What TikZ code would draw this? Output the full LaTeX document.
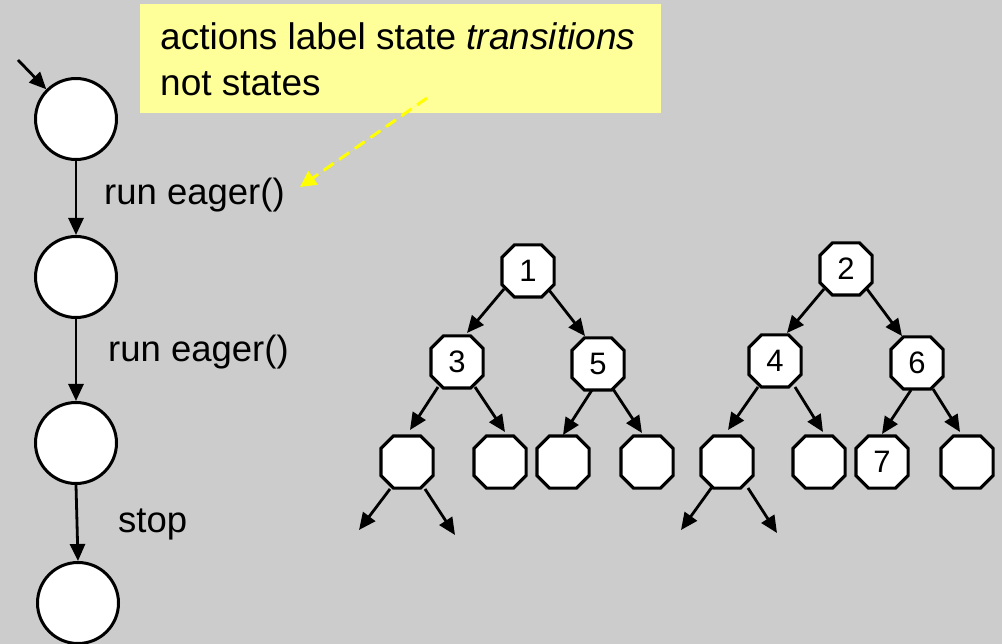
\documentclass[tikz,border=0pt]{standalone}
\usepackage{fontspec}
\setmainfont{Liberation Sans}
\usetikzlibrary{arrows.meta,calc}
\definecolor{bggray}{RGB}{204,204,204}
\definecolor{notefill}{RGB}{255,255,153}
\definecolor{notearrow}{RGB}{255,255,0}

% a rectangle with its four corners cut off at 45 degrees
\def\octcut{12.5pt}
\makeatletter
\pgfdeclareshape{octobox}{%
  \inheritsavedanchors[from=rectangle]%
  \inheritanchorborder[from=rectangle]%
  \inheritanchor[from=rectangle]{center}%
  \inheritanchor[from=rectangle]{north}%
  \inheritanchor[from=rectangle]{south}%
  \inheritanchor[from=rectangle]{east}%
  \inheritanchor[from=rectangle]{west}%
  \inheritanchor[from=rectangle]{north east}%
  \inheritanchor[from=rectangle]{north west}%
  \inheritanchor[from=rectangle]{south east}%
  \inheritanchor[from=rectangle]{south west}%
  \inheritanchor[from=rectangle]{text}%
  \inheritanchor[from=rectangle]{mid}%
  \inheritanchor[from=rectangle]{base}%
  \backgroundpath{%
    \southwest \pgf@xa=\pgf@x \pgf@ya=\pgf@y
    \northeast \pgf@xb=\pgf@x \pgf@yb=\pgf@y
    \pgf@xc=\pgf@xa \advance\pgf@xc by \octcut
    \pgf@yc=\pgf@ya \advance\pgf@yc by \octcut
    \edef\oct@l{\the\pgf@xa}\edef\oct@r{\the\pgf@xb}%
    \edef\oct@b{\the\pgf@ya}\edef\oct@t{\the\pgf@yb}%
    \edef\oct@li{\the\pgf@xc}\edef\oct@bi{\the\pgf@yc}%
    \pgf@xc=\pgf@xb \advance\pgf@xc by -\octcut
    \pgf@yc=\pgf@yb \advance\pgf@yc by -\octcut
    \edef\oct@ri{\the\pgf@xc}\edef\oct@ti{\the\pgf@yc}%
    \pgfpathmoveto{\pgfqpoint{\oct@li}{\oct@b}}%
    \pgfpathlineto{\pgfqpoint{\oct@ri}{\oct@b}}%
    \pgfpathlineto{\pgfqpoint{\oct@r}{\oct@bi}}%
    \pgfpathlineto{\pgfqpoint{\oct@r}{\oct@ti}}%
    \pgfpathlineto{\pgfqpoint{\oct@ri}{\oct@t}}%
    \pgfpathlineto{\pgfqpoint{\oct@li}{\oct@t}}%
    \pgfpathlineto{\pgfqpoint{\oct@l}{\oct@ti}}%
    \pgfpathlineto{\pgfqpoint{\oct@l}{\oct@bi}}%
    \pgfpathclose
  }%
}
\makeatother

\tikzset{
  state/.style={circle, draw, line width=3pt, fill=white, minimum size=81pt, inner sep=0pt},
  octo/.style={octobox, draw, line width=3.2pt, fill=white, inner sep=0pt,
               minimum width=49pt, minimum height=49pt,
               font=\fontsize{31}{31}\selectfont},
  arr/.style={-{Triangle[length=17pt,width=15pt]}, line width=2.8pt},
  lbl/.style={anchor=base west, inner sep=0pt, font=\fontsize{36.5}{44}\selectfont},
  notebox/.style={fill=notefill, draw=none, anchor=north west, inner sep=0pt},
  notetext/.style={anchor=base west, inner sep=0pt, font=\fontsize{37}{46}\selectfont},
  notearr/.style={-{Triangle[length=16pt,width=16pt]}, line width=3pt, draw=notearrow,
                  fill=notearrow, dash pattern=on 12pt off 7pt}
}
\begin{document}
\begin{tikzpicture}[x=1pt,y=-1pt]
\useasboundingbox (0,0) rectangle (1002,644);
\fill[bggray] (0,0) rectangle (1002,644);

% note
\node[notebox, minimum width=521pt, minimum height=109pt] (note) at (140,4) {};
\node[notetext] (noteA) at (160,50) {actions label state \textit{transitions}};
\node[notetext] (noteB) at (160,96) {not states};

% linear chain of states
\node[state] (c1) at (76,119) {};
\node[state] (c2) at (76,277) {};
\node[state] (c3) at (76,443) {};
\node[state] (c4) at (78,603) {};
\coordinate (init) at (18,60);
\draw[arr] (init) -- (c1.135);
\draw[arr] (c1.south) -- (c2.north);
\draw[arr] (c2.south) -- (c3.north);
\draw[arr] (c3.south) -- (c4.north);
\node[lbl] (t1) at (104,205) {run eager()};
\node[lbl] (t2) at (108,362) {run eager()};
\node[lbl] (t3) at (118,532) {stop};

% pointer from the note to a transition label
\coordinate (ptrS) at (427,98);
\coordinate (ptrE) at (300,187);
\draw[notearr] (ptrS) -- (ptrE);

% first tree
\node[octo] (n1) at (528,271) {1};
\node[octo] (n3) at (457,362) {3};
\node[octo] (n5) at (598,364) {5};
\node[octo] (la) at (407,462) {};
\node[octo] (lb) at (500,462) {};
\node[octo] (lc) at (563,462) {};
\node[octo] (ld) at (647,462) {};
\coordinate (fa1) at (359,530);
\coordinate (fa2) at (455,535);
\draw[arr] ($(n1)+(-24,18)$) -- ($(n3)+(10,-29)$);
\draw[arr] ($(n1)+(21,19)$) -- ($(n5)+(-13,-28)$);
\draw[arr] ($(n3)+(-19,25)$) -- ($(la)+(3,-32)$);
\draw[arr] ($(n3)+(18,25)$) -- ($(lb)+(5,-30)$);
\draw[arr] ($(n5)+(-6,26)$) -- ($(lc)+(0,-27)$);
\draw[arr] ($(n5)+(15,25)$) -- ($(ld)+(-5,-29)$);
\draw[arr] ($(la)+(-17,27)$) -- (fa1);
\draw[arr] ($(la)+(18,27)$) -- (fa2);

% second tree
\node[octo] (n2) at (846,269) {2};
\node[octo] (n4) at (775,361) {4};
\node[octo] (n6) at (917,363) {6};
\node[octo] (ma) at (727,462) {};
\node[octo] (mb) at (819,462) {};
\node[octo] (m7) at (882,462) {7};
\node[octo] (md) at (967,462) {};
\coordinate (fb1) at (681,530);
\coordinate (fb2) at (777,533);
\draw[arr] ($(n2)+(-22,20)$) -- ($(n4)+(12,-28)$);
\draw[arr] ($(n2)+(21,20)$) -- ($(n6)+(-15,-27)$);
\draw[arr] ($(n4)+(-17,26)$) -- ($(ma)+(1,-32)$);
\draw[arr] ($(n4)+(20,26)$) -- ($(mb)+(4,-30)$);
\draw[arr] ($(n6)+(-6,27)$) -- ($(m7)+(0,-28)$);
\draw[arr] ($(n6)+(16,26)$) -- ($(md)+(-7,-30)$);
\draw[arr] ($(ma)+(-15,25)$) -- (fb1);
\draw[arr] ($(ma)+(21,26)$) -- (fb2);
\end{tikzpicture}
\end{document}
